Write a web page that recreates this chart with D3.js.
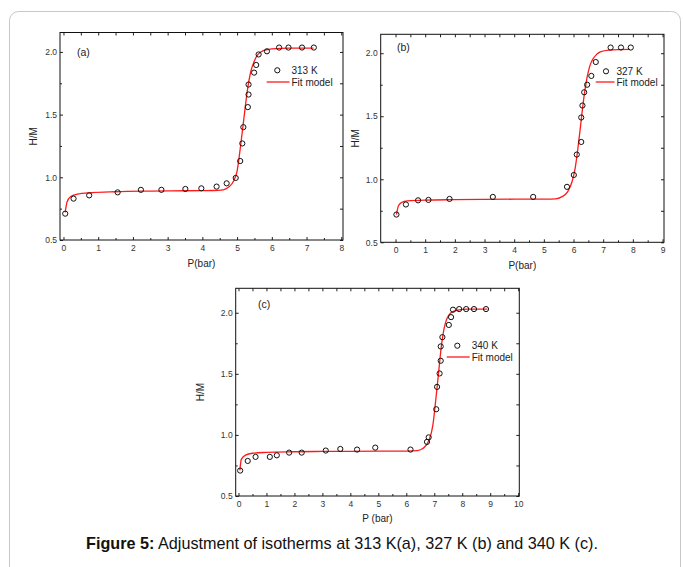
<!DOCTYPE html>
<html>
<head>
<meta charset="utf-8">
<script src="https://cdn.jsdelivr.net/npm/d3@7"></script>
<style>
body { margin: 0; background: #fff; }
svg { display: block; font-family: "Liberation Sans", Arial, sans-serif; }
</style>
</head>
<body>
<svg id="fig" width="683" height="567"></svg>
<script>
// (a) 313 K
const pA = [0.05, 0.29, 0.74, 1.56, 2.23, 2.82, 3.51, 3.97, 4.41, 4.70, 4.96, 5.09, 5.15, 5.18, 5.31, 5.33, 5.33, 5.49, 5.55, 5.62, 5.86, 6.21, 6.48, 6.87, 7.21];
const hA = [0.71, 0.83, 0.856, 0.88, 0.90, 0.90, 0.907, 0.912, 0.926, 0.952, 0.995, 1.13, 1.27, 1.40, 1.56, 1.66, 1.74, 1.835, 1.896, 1.98, 2.005, 2.035, 2.035, 2.035, 2.035];
const fitPA = [0.05, 0.1, 0.2, 0.4, 0.8, 1.5, 2.5, 3.5, 4.3, 4.6, 4.75, 4.9, 5.0, 5.1, 5.2, 5.3, 5.4, 5.5, 5.6, 5.75, 6.0, 6.5, 7.2];
const fitHA = [0.72, 0.80, 0.845, 0.865, 0.877, 0.885, 0.89, 0.893, 0.895, 0.90, 0.92, 0.97, 1.05, 1.25, 1.48, 1.70, 1.85, 1.93, 1.98, 2.01, 2.025, 2.03, 2.03];

// (b) 327 K
const pB = [0.03, 0.35, 0.76, 1.11, 1.82, 3.28, 4.64, 5.78, 6.01, 6.11, 6.26, 6.26, 6.30, 6.36, 6.46, 6.60, 6.75, 7.25, 7.60, 7.93];
const hB = [0.72, 0.80, 0.833, 0.836, 0.844, 0.86, 0.86, 0.94, 1.034, 1.196, 1.296, 1.49, 1.585, 1.69, 1.75, 1.82, 1.93, 2.045, 2.045, 2.045];
const fitPB = [0.03, 0.1, 0.2, 0.4, 1, 2, 3, 4, 5, 5.4, 5.6, 5.8, 5.95, 6.05, 6.15, 6.25, 6.35, 6.45, 6.55, 6.7, 6.9, 7.2, 7.9];
const fitHB = [0.72, 0.79, 0.815, 0.828, 0.835, 0.838, 0.84, 0.842, 0.843, 0.845, 0.86, 0.90, 0.98, 1.08, 1.25, 1.45, 1.65, 1.80, 1.90, 1.97, 2.01, 2.025, 2.03];

// (c) 340 K
const pC = [0.06, 0.33, 0.61, 1.12, 1.37, 1.81, 2.26, 3.12, 3.64, 4.24, 4.89, 6.15, 6.74, 6.80, 7.07, 7.10, 7.19, 7.23, 7.23, 7.29, 7.52, 7.60, 7.67, 7.89, 8.14, 8.42, 8.85];
const hC = [0.708, 0.787, 0.82, 0.82, 0.833, 0.855, 0.855, 0.872, 0.885, 0.88, 0.896, 0.88, 0.943, 0.98, 1.21, 1.393, 1.503, 1.607, 1.724, 1.80, 1.90, 1.964, 2.025, 2.03, 2.03, 2.03, 2.03];
const fitPC = [0.05, 0.1, 0.25, 0.5, 1, 2, 3, 4, 5, 6, 6.4, 6.6, 6.8, 6.95, 7.05, 7.15, 7.25, 7.35, 7.45, 7.6, 7.8, 8.2, 8.9];
const fitHC = [0.71, 0.80, 0.835, 0.85, 0.857, 0.862, 0.865, 0.866, 0.867, 0.868, 0.872, 0.89, 0.95, 1.08, 1.28, 1.50, 1.72, 1.87, 1.95, 2.0, 2.02, 2.03, 2.03];

const yTicks = [0.5, 1.0, 1.5, 2.0];
const seriesNames = ["313 K", "327 K", "340 K"];
const panelTags = ["(a)", "(b)", "(c)"];
const xTitles = ["P(bar)", "P(bar)", "P (bar)"];
const caption = ["Figure 5:", " Adjustment of isotherms at 313 K(a), 327 K (b) and 340 K (c)."];

const svg = d3.select("#fig");

// light frame round the figure
svg.append("rect")
    .attr("x", 9.5).attr("y", 11.5)
    .attr("width", 671).attr("height", 620)
    .attr("rx", 9)
    .attr("fill", "none")
    .attr("stroke", "#c8c8c8");

function drawPanel(cfg) {
    const x = d3.scaleLinear().domain(cfg.xDom).range([cfg.left, cfg.right]);
    const y = d3.scaleLinear().domain(cfg.yDom).range([cfg.bottom, cfg.top]);
    const g = svg.append("g");

    const xMajor = d3.range(0, cfg.xMax + 0.001, 1);
    const xMinor = d3.range(0.5, cfg.xMax, 1);
    const yMinor = [0.75, 1.25, 1.75];

    // bottom
    g.append("g").attr("transform", "translate(0," + cfg.bottom + ")")
        .call(d3.axisBottom(x).tickValues(xMajor).tickSize(-3).tickPadding(5).tickFormat(d3.format("d")));
    g.append("g").attr("transform", "translate(0," + cfg.bottom + ")")
        .call(d3.axisBottom(x).tickValues(xMinor).tickSize(-2).tickFormat(""));
    // top
    g.append("g").attr("transform", "translate(0," + cfg.top + ")")
        .call(d3.axisTop(x).tickValues(xMajor.concat(xMinor)).tickSize(-3).tickFormat(""));
    // left
    g.append("g").attr("transform", "translate(" + cfg.left + ",0)")
        .call(d3.axisLeft(y).tickValues(yTicks).tickSize(-3).tickPadding(3).tickFormat(d3.format(".1f")));
    g.append("g").attr("transform", "translate(" + cfg.left + ",0)")
        .call(d3.axisLeft(y).tickValues(yMinor).tickSize(-2).tickFormat(""));
    // right
    g.append("g").attr("transform", "translate(" + cfg.right + ",0)")
        .call(d3.axisRight(y).tickValues(yTicks.concat(yMinor)).tickSize(-3).tickFormat(""));

    g.selectAll(".domain").remove();
    g.selectAll(".tick line").attr("stroke", "#222");
    g.selectAll(".tick text").attr("font-size", 8.5).attr("fill", "#333")
        .attr("font-family", "'Liberation Sans', Arial, sans-serif");

    g.append("rect")
        .attr("x", cfg.left).attr("y", cfg.top)
        .attr("width", cfg.right - cfg.left).attr("height", cfg.bottom - cfg.top)
        .attr("fill", "none").attr("stroke", "#111").attr("stroke-width", 1);

    // fit line
    const fit = cfg.fitP.map((p, i) => ({ p: p, h: cfg.fitH[i] }));
    g.append("path")
        .datum(fit)
        .attr("fill", "none")
        .attr("stroke", "#ff1a1a")
        .attr("stroke-width", 1.3)
        .attr("d", d3.line().curve(d3.curveMonotoneX)
            .x(function (d) { return x(d.p); })
            .y(function (d) { return y(d.h); }));

    // points
    const pts = cfg.p.map((p, i) => ({ p: p, h: cfg.h[i] }));
    g.selectAll("circle.pt").data(pts).enter().append("circle")
        .attr("class", "pt")
        .attr("cx", d => x(d.p)).attr("cy", d => y(d.h))
        .attr("r", 2.6)
        .attr("fill", "none").attr("stroke", "#111").attr("stroke-width", 1);

    // panel tag
    g.append("text").attr("x", cfg.tag[0]).attr("y", cfg.tag[1])
        .attr("font-size", 10.5).attr("fill", "#222").text(cfg.tagText);

    // legend
    const lg = cfg.legend;
    g.append("circle").attr("cx", lg[0]).attr("cy", lg[1]).attr("r", 2.6)
        .attr("fill", "none").attr("stroke", "#111");
    g.append("text").attr("x", lg[2]).attr("y", lg[1] + 3.6)
        .attr("font-size", 10).attr("fill", "#222").text(cfg.name);
    g.append("line").attr("x1", lg[3]).attr("x2", lg[2] - 2)
        .attr("y1", lg[4]).attr("y2", lg[4])
        .attr("stroke", "#ff1a1a").attr("stroke-width", 1.3);
    g.append("text").attr("x", lg[2]).attr("y", lg[4] + 3.6)
        .attr("font-size", 10).attr("fill", "#222").text("Fit model");

    // axis titles
    g.append("text").attr("x", (cfg.left + cfg.right) / 2).attr("y", cfg.xTitleY)
        .attr("text-anchor", "middle").attr("font-size", 10).attr("fill", "#222")
        .text(cfg.xTitle);
    g.append("text")
        .attr("transform", "translate(" + cfg.yTitleX + "," + (cfg.top + cfg.bottom) / 2 + ") rotate(-90)")
        .attr("text-anchor", "middle").attr("font-size", 10).attr("fill", "#222")
        .text("H/M");
}

drawPanel({
    left: 60, right: 343, top: 32.5, bottom: 240,
    xDom: [-0.1, 8.05], yDom: [0.5, 2.155], xMax: 8,
    p: pA, h: hA, fitP: fitPA, fitH: fitHA,
    tag: [77, 56], tagText: panelTags[0], name: seriesNames[0],
    legend: [277.3, 70.3, 291.5, 266.7, 82],
    xTitle: xTitles[0], xTitleY: 267, yTitleX: 37
});

drawPanel({
    left: 380.7, right: 664, top: 34.3, bottom: 242.3,
    xDom: [-0.5, 9.05], yDom: [0.5, 2.15], xMax: 9,
    p: pB, h: hB, fitP: fitPB, fitH: fitHB,
    tag: [397, 51], tagText: panelTags[1], name: seriesNames[1],
    legend: [606, 71.3, 616.5, 595.7, 82],
    xTitle: xTitles[1], xTitleY: 268.5, yTitleX: 358.5
});

drawPanel({
    left: 235.7, right: 519.3, top: 288.3, bottom: 496,
    xDom: [-0.1, 10.04], yDom: [0.5, 2.2], xMax: 10,
    p: pC, h: hC, fitP: fitPC, fitH: fitHC,
    tag: [258, 308], tagText: panelTags[2], name: seriesNames[2],
    legend: [457.3, 345.7, 471.7, 446.7, 357],
    xTitle: xTitles[2], xTitleY: 522, yTitleX: 204
});

// caption
const cap = svg.append("text").attr("x", 342).attr("y", 549)
    .attr("text-anchor", "middle").attr("font-size", 16.2).attr("fill", "#111");
cap.append("tspan").attr("font-weight", "bold").text(caption[0]);
cap.append("tspan").text(caption[1]);
</script>
</body>
</html>
